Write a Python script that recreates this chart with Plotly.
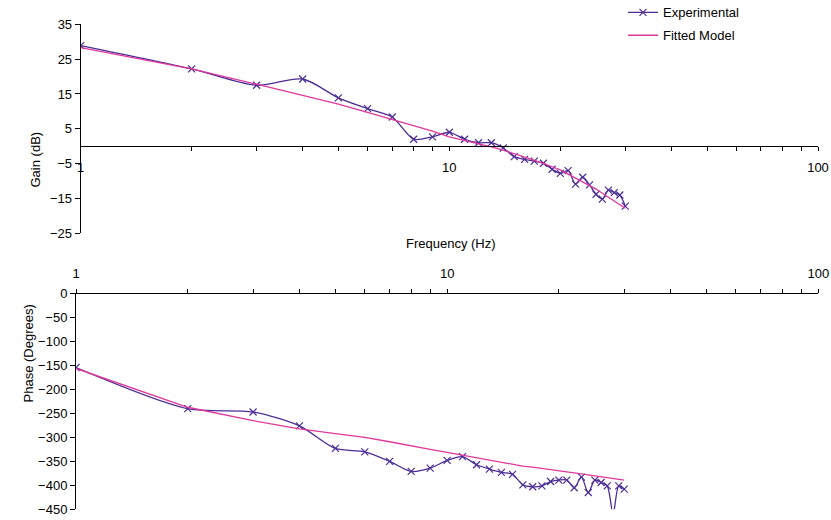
import plotly.graph_objects as go

# ---- data ----
freq = list(range(1, 31))
gain_exp = [28.9, 22.2, 17.5, 19.3, 13.9, 10.8, 8.4, 2.0, 2.7, 4.0,
            2.0, 1.0, 1.0, -0.5, -3.0, -3.8, -4.3, -4.9, -6.6, -7.8,
            -7.0, -10.9, -8.9, -11.1, -13.8, -15.2, -12.6, -13.3, -14.0, -17.2]
gain_fit = [28.3, 22.2, 17.8, 14.5, 12.1, 9.7, 7.7, 5.8, 4.3, 2.7,
            1.7, 0.6, -0.2, -1.1, -2.1, -3.0, -4.0, -4.9, -5.9, -6.8,
            -8.0, -9.1, -10.1, -11.1, -12.3, -13.5, -14.7, -15.8, -16.8, -17.8]
phase_exp = [-154, -240, -247, -276, -323, -330, -350, -371, -364, -348,
             -340, -357, -366, -373, -377, -399, -403, -401, -392, -389,
             -389, -405, -383, -415, -389, -394, -401, -460, -401, -408]
phase_fit = [-156, -237, -265, -282, -292, -300, -309, -318, -325, -331,
             -337, -343, -347, -352, -356, -360, -362, -365, -368, -370,
             -372, -374, -376, -378, -380, -382, -384, -386, -387, -389]

EXP_COLOR = "#4B2D96"
FIT_COLOR = "#E0379B"
FONT = "Liberation Sans, Arial, sans-serif"
FS = 13

W, H = 831, 520

fig = go.Figure()

exp_line = dict(color=EXP_COLOR, width=1.3, shape="spline", smoothing=0.8)
exp_marker = dict(symbol="x-thin", size=7, color=EXP_COLOR,
                  line=dict(width=1.2, color=EXP_COLOR))
fit_line = dict(color=FIT_COLOR, width=1.3)

fig.add_trace(go.Scatter(x=freq, y=gain_exp, mode="lines+markers", name="Experimental",
                         line=exp_line, marker=exp_marker, xaxis="x", yaxis="y",
                         legendgroup="exp"))
fig.add_trace(go.Scatter(x=freq, y=gain_fit, mode="lines", name="Fitted Model",
                         line=fit_line, xaxis="x", yaxis="y", legendgroup="fit"))
fig.add_trace(go.Scatter(x=freq, y=phase_exp, mode="lines+markers", name="Experimental",
                         line=exp_line, marker=exp_marker, xaxis="x2", yaxis="y2",
                         showlegend=False, legendgroup="exp"))
fig.add_trace(go.Scatter(x=freq, y=phase_fit, mode="lines", name="Fitted Model",
                         line=fit_line, xaxis="x2", yaxis="y2", showlegend=False,
                         legendgroup="fit"))

# domains (paper fractions)
xd1 = [80.7 / W, 818 / W]
yd1 = [(H - 233.3) / H, (H - 24.3) / H]
xd2 = [76 / W, 818.3 / W]
yd2 = [(H - 509.3) / H, (H - 293.7) / H]

g_range = [-25, 35]
zero_pos = yd1[0] + (yd1[1] - yd1[0]) * (0 - g_range[0]) / (g_range[1] - g_range[0])

tickfont = dict(family=FONT, size=FS, color="#000000")

def xaxis_common(domain):
    return dict(type="log", range=[0, 2], domain=domain, dtick=1,
                showgrid=False, zeroline=False, tickcolor="#000000",
                ticklen=4, tickwidth=1, tickfont=tickfont, automargin=False,
                minor=dict(dtick="D1", ticklen=4, tickwidth=1, tickcolor="#000000",
                           showgrid=False))

xa = xaxis_common(xd1)
xa.update(anchor="free", position=zero_pos, showline=True, linecolor="#000000",
          linewidth=1, ticks="outside", ticklabelstandoff=5)
xa["minor"]["ticks"] = "outside"
xa3 = xaxis_common(xd1)
xa3.update(overlaying="x", anchor="free", position=zero_pos, showline=False,
           ticks="inside", showticklabels=False)
xa3["minor"]["ticks"] = "inside"

xa2 = xaxis_common(xd2)
xa2.update(anchor="y2", side="top", showline=True, linecolor="#000000",
           linewidth=1, ticks="outside", ticklabelstandoff=6)
xa2["minor"]["ticks"] = "outside"
xa4 = xaxis_common(xd2)
xa4.update(overlaying="x2", anchor="y2", side="top", showline=False,
           ticks="inside", showticklabels=False)
xa4["minor"]["ticks"] = "inside"

fig.update_layout(
    width=W, height=H,
    margin=dict(l=0, r=0, t=0, b=0, autoexpand=False),
    paper_bgcolor="white", plot_bgcolor="white",
    font=dict(family=FONT, size=FS, color="#000000"),
    showlegend=True,
    legend=dict(x=623 / W, y=1.005, xanchor="left", yanchor="top",
                bgcolor="rgba(0,0,0,0)", font=dict(family=FONT, size=FS),
                itemwidth=30, traceorder="grouped", tracegroupgap=3),
    xaxis=xa, xaxis3=xa3, xaxis2=xa2, xaxis4=xa4,
    yaxis=dict(domain=yd1, range=g_range, tick0=5, dtick=10, anchor="x",
               showline=True, linecolor="#000000", linewidth=1,
               ticks="outside", ticklen=5, tickcolor="#000000", automargin=False,
               showgrid=False, zeroline=False, tickfont=tickfont),
    yaxis2=dict(domain=yd2, range=[-450, 0], dtick=50, anchor="x2",
                showline=True, linecolor="#000000", linewidth=1,
                ticks="outside", ticklen=5, tickcolor="#000000", automargin=False,
                showgrid=False, zeroline=False, tickfont=tickfont),
    annotations=[
        dict(text="Gain (dB)", textangle=-90, x=25 / W, y=(H - 130) / H,
             xref="paper", yref="paper", showarrow=False,
             font=dict(family=FONT, size=FS)),
        dict(text="Frequency (Hz)", x=451 / W, y=(H - 243) / H,
             xref="paper", yref="paper", showarrow=False,
             font=dict(family=FONT, size=FS)),
        dict(text="Phase (Degrees)", textangle=-90, x=18 / W, y=(H - 405) / H,
             xref="paper", yref="paper", showarrow=False,
             font=dict(family=FONT, size=FS)),
    ],
)

fig.write_html("out.html")
